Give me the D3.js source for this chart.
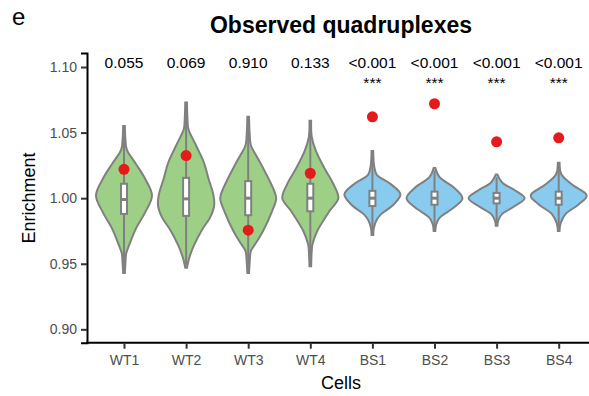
<!DOCTYPE html>
<html>
<head>
<meta charset="utf-8">
<script src="https://cdn.jsdelivr.net/npm/d3@7"></script>
<style>
  body { margin: 0; background: #fff; }
  svg { display: block; font-family: "Liberation Sans", Arial, sans-serif; }
</style>
</head>
<body>
<svg id="chart" width="589" height="396"></svg>
<script>
// groups and their colours
const cells = ['WT1', 'WT2', 'WT3', 'WT4', 'BS1', 'BS2', 'BS3', 'BS4'];
const fills = ['#9ecf86', '#9ecf86', '#9ecf86', '#9ecf86', '#88cbee', '#88cbee', '#88cbee', '#88cbee'];
const pLabels = ['0.055', '0.069', '0.910', '0.133', '<0.001', '<0.001', '<0.001', '<0.001'];
const stars = ['', '', '', '', '***', '***', '***', '***'];
const observed = [1.022, 1.0325, 0.9756, 1.019, 1.062, 1.072, 1.043, 1.046];
const yTicks = [0.90, 0.95, 1.00, 1.05, 1.10];

// violin outlines: [enrichment, relative width]
const wt1 = [[1.055,0.03],[1.045,0.05],[1.037,0.1],[1.027,0.4],[1.015,0.75],[1.002,1],[0.989,0.75],[0.977,0.43],[0.964,0.18],[0.958,0.08],[0.95,0.05],[0.943,0.03]];
const wt2 = [[1.073,0.03],[1.06,0.05],[1.053,0.08],[1.04,0.36],[1.027,0.64],[1.015,0.8],[1.002,0.98],[0.994,1],[0.985,0.85],[0.976,0.57],[0.964,0.28],[0.955,0.12],[0.951,0.07],[0.947,0.03]];
const wt3 = [[1.062,0.03],[1.05,0.05],[1.04,0.1],[1.032,0.3],[1.023,0.53],[1.008,0.88],[1.0,1],[0.99,0.85],[0.975,0.53],[0.965,0.25],[0.96,0.1],[0.95,0.05],[0.943,0.03]];
const wt4 = [[1.059,0.03],[1.047,0.05],[1.036,0.2],[1.023,0.5],[1.011,0.82],[1.0,1],[0.99,0.68],[0.975,0.25],[0.965,0.08],[0.955,0.04],[0.948,0.03]];
const bs1 = [[1.036,0.03],[1.025,0.06],[1.018,0.15],[1.011,0.64],[1.003,1],[0.995,0.75],[0.988,0.32],[0.983,0.14],[0.977,0.05],[0.972,0.03]];
const bs2 = [[1.023,0.03],[1.016,0.18],[1.008,0.7],[1.0,1],[0.993,0.7],[0.985,0.18],[0.98,0.06],[0.975,0.03]];
const bs3 = [[1.018,0.03],[1.012,0.2],[1.006,0.65],[1.0,1],[0.994,0.65],[0.988,0.2],[0.983,0.06],[0.979,0.03]];
const bs4 = [[1.027,0.03],[1.018,0.1],[1.01,0.5],[1.002,1],[0.995,0.7],[0.988,0.25],[0.981,0.07],[0.975,0.03]];
const violins = [wt1, wt2, wt3, wt4, bs1, bs2, bs3, bs4];

// boxplot stats
const q1 = [0.988, 0.9865, 0.987, 0.990, 0.994, 0.995, 0.996, 0.995];
const med = [0.999, 0.9995, 1.000, 1.000, 1.000, 1.000, 1.000, 1.000];
const q3 = [1.011, 1.0155, 1.013, 1.011, 1.0056, 1.005, 1.004, 1.005];
const whiskLo = [0.945, 0.949, 0.945, 0.951, 0.974, 0.977, 0.981, 0.977];
const whiskHi = [1.052, 1.07, 1.059, 1.056, 1.033, 1.021, 1.016, 1.025];

const svg = d3.select('#chart');
const grey = '#808080';

const x = d3.scalePoint().domain(cells).range([124, 558.7]);
const y = d3.scaleLinear().domain([0.8898, 1.1107]).range([342.7, 53]);
const w = d3.scaleLinear().domain([0, 1]).range([0, 28]);

// violins
const g = svg.append('g');
violins.forEach((prof, i) => {
    const cx = x(cells[i]);
    const area = d3.area()
        .y(d => y(d[0]))
        .x0(d => cx - w(d[1]))
        .x1(d => cx + w(d[1]))
        .curve(d3.curveCatmullRom);
    g.append('path')
        .attr('d', area(prof))
        .attr('fill', fills[i])
        .attr('stroke', grey)
        .attr('stroke-width', 2);
    // whisker
    g.append('line')
        .attr('x1', cx).attr('x2', cx)
        .attr('y1', y(whiskLo[i])).attr('y2', y(whiskHi[i]))
        .attr('stroke', grey).attr('stroke-width', 2);
    // box
    g.append('rect')
        .attr('x', cx - 3).attr('width', 6)
        .attr('y', y(q3[i])).attr('height', y(q1[i]) - y(q3[i]))
        .attr('fill', '#fff').attr('stroke', grey).attr('stroke-width', 2);
    g.append('line')
        .attr('x1', cx - 3).attr('x2', cx + 3)
        .attr('y1', y(med[i])).attr('y2', y(med[i]))
        .attr('stroke', grey).attr('stroke-width', 3);
});

// observed values
svg.append('g').selectAll('circle')
    .data(observed)
    .join('circle')
    .attr('cx', (d, i) => x(cells[i]))
    .attr('cy', d => y(d))
    .attr('r', 5.5)
    .attr('fill', '#e41a1c');

// axes
const yAxis = svg.append('g')
    .attr('transform', 'translate(87,0)')
    .call(d3.axisLeft(y).tickValues(yTicks).tickFormat(d3.format('.2f')).tickSizeOuter(0).tickSize(6).tickPadding(4));
const xAxis = svg.append('g')
    .attr('transform', 'translate(0,342.7)')
    .call(d3.axisBottom(x).tickSizeOuter(0).tickSize(6).tickPadding(6));
xAxis.select('.domain').attr('d', 'M86,0H589');
[xAxis, yAxis].forEach(a => {
    a.select('.domain').attr('stroke', '#000').attr('stroke-width', 2);
    a.selectAll('.tick line').attr('stroke', '#333').attr('stroke-width', 2);
    a.selectAll('.tick text').attr('fill', '#4d4d4d').style('font-size', '14px')
        .style('font-family', '"Liberation Sans", Arial, sans-serif');
});

// p-values
svg.append('g').selectAll('text')
    .data(pLabels)
    .join('text')
    .attr('x', (d, i) => x(cells[i]))
    .attr('y', 68)
    .attr('text-anchor', 'middle')
    .style('font-size', '15.5px')
    .text(d => d);
svg.append('g').selectAll('text')
    .data(stars)
    .join('text')
    .attr('x', (d, i) => x(cells[i]))
    .attr('y', 88)
    .attr('text-anchor', 'middle')
    .style('font-size', '15.5px')
    .text(d => d);

// titles
svg.append('text').attr('x', 12).attr('y', 25).style('font-size', '24px').text('e');
svg.append('text').attr('x', 341).attr('y', 33).attr('text-anchor', 'middle')
    .style('font-size', '23px').style('font-weight', 'bold').text('Observed quadruplexes');
svg.append('text').attr('x', 341).attr('y', 389).attr('text-anchor', 'middle')
    .style('font-size', '18px').text('Cells');
svg.append('text').attr('transform', 'translate(35,198) rotate(-90)').attr('text-anchor', 'middle')
    .style('font-size', '18px').text('Enrichment');
</script>
</body>
</html>
